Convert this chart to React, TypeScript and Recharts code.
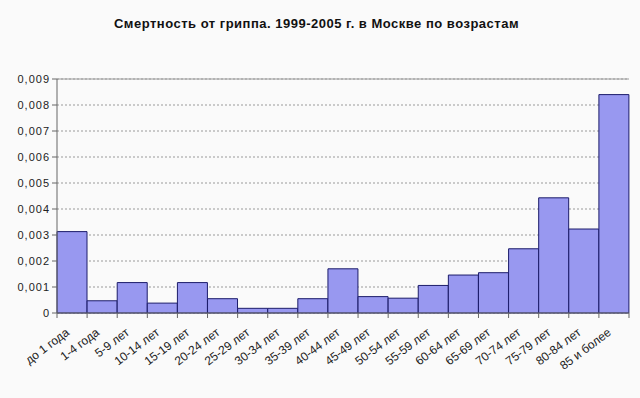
import React from 'react';
import { BarChart, Bar, XAxis, YAxis, CartesianGrid, ReferenceLine } from 'recharts';

const ageGroups = [
  'до 1 года', '1-4 года', '5-9 лет', '10-14 лет', '15-19 лет', '20-24 лет', '25-29 лет',
  '30-34 лет', '35-39 лет', '40-44 лет', '45-49 лет', '50-54 лет', '55-59 лет', '60-64 лет',
  '65-69 лет', '70-74 лет', '75-79 лет', '80-84 лет', '85 и более',
];
const mortality = [
  0.00313, 0.00047, 0.00117, 0.00038, 0.00117, 0.00055, 0.00018, 0.00018, 0.00055, 0.0017,
  0.00063, 0.00057, 0.00106, 0.00146, 0.00155, 0.00247, 0.00443, 0.00323, 0.0084,
];
const yTicks = [0, 0.001, 0.002, 0.003, 0.004, 0.005, 0.006, 0.007, 0.008, 0.009];

const data = ageGroups.map((age, i) => ({ age, value: mortality[i] }));

const W = 640;
const H = 398;
const LEFT = 57;
const RIGHT = 11;
const band = (W - LEFT - RIGHT) / ageGroups.length;
const font = '"Liberation Sans", Arial, sans-serif';

const XTick = (props: any) => {
  const { x, y, payload, index } = props;
  const bx = x - band / 2;
  const tx = x - 2;
  const ty = y + 21;
  return (
    <g>
      <line x1={bx} x2={bx} y1={y} y2={y + 5} stroke="#666" />
      {index === ageGroups.length - 1 && (
        <line x1={x + band / 2} x2={x + band / 2} y1={y} y2={y + 5} stroke="#666" />
      )}
      <text
        x={tx}
        y={ty}
        textAnchor="end"
        fontSize={12}
        fill="#222"
        fontFamily={font}
        transform={`rotate(-37, ${tx}, ${ty})`}
      >
        {payload.value}
      </text>
    </g>
  );
};

const fmt = (v: number) => (v === 0 ? '0' : v.toFixed(3).replace('.', ','));

const App = () => {
  return (
    <div style={{ position: 'absolute', left: 0, top: 0, width: W, height: H, background: '#fafafa' }}>
      <div
        style={{
          position: 'absolute',
          top: 16,
          left: 0,
          width: 633,
          textAlign: 'center',
          fontFamily: font,
          fontWeight: 'bold',
          fontSize: 13,
          letterSpacing: 0.5,
          color: '#111',
        }}
      >
        Смертность от гриппа. 1999-2005 г. в Москве по возрастам
      </div>
      <BarChart
        width={W}
        height={H}
        data={data}
        barCategoryGap={0}
        margin={{ top: 79, right: RIGHT, bottom: 0, left: 0 }}
      >
        <CartesianGrid vertical={false} stroke="#9a9a9a" strokeDasharray="2 2" />
        <ReferenceLine y={0.009} stroke="#9a9a9a" />
        <XAxis
          dataKey="age"
          interval={0}
          height={85}
          tick={<XTick />}
          tickSize={0}
          tickMargin={0}
          tickLine={false}
          axisLine={{ stroke: '#666' }}
        />
        <YAxis
          width={LEFT}
          domain={[0, 0.009]}
          ticks={yTicks}
          tickFormatter={fmt}
          tick={{ fontSize: 11, fill: '#222', fontFamily: font, letterSpacing: 1 }}
          tickSize={5}
          tickMargin={2}
          axisLine={{ stroke: '#666' }}
          tickLine={{ stroke: '#666' }}
        />
        <YAxis
          yAxisId="r"
          orientation="right"
          width={0}
          tick={false}
          tickLine={false}
          axisLine={{ stroke: '#9a9a9a' }}
        />
        <Bar dataKey="value" fill="#9898f0" stroke="#1c1c6a" strokeWidth={1} isAnimationActive={false} />
      </BarChart>
    </div>
  );
};

export default App;
